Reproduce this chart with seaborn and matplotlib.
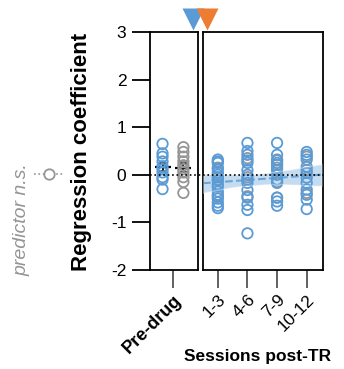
import numpy as np
import pandas as pd
import matplotlib
matplotlib.use("Agg")
import matplotlib.pyplot as plt
import seaborn as sns

sns.set_style("ticks")
plt.rcParams["font.family"] = ["Liberation Sans", "DejaVu Sans"]
plt.rcParams["text.color"] = "black"
plt.rcParams["axes.labelcolor"] = "black"
plt.rcParams["xtick.color"] = "black"
plt.rcParams["ytick.color"] = "black"

# ---------------- data ----------------
pre_label = "Pre-drug"
sessions = ["1-3", "4-6", "7-9", "10-12"]
groups = ["sig", "ns"]

pre_sig = [0.65, 0.45, 0.38, 0.28, 0.18, 0.12, 0.05, -0.05, -0.10, -0.30]
pre_ns = [0.58, 0.48, 0.38, 0.28, 0.20, 0.12, 0.05, -0.05, -0.15, -0.38]

post_sig_13 = [0.32, 0.28, 0.25, 0.12, 0.05, 0.0, -0.05, -0.12, -0.20, -0.25,
               -0.35, -0.42, -0.50, -0.58, -0.65, -0.70]
post_sig_46 = [0.67, 0.50, 0.42, 0.30, 0.25, 0.10, 0.0, -0.10, -0.17, -0.32,
               -0.48, -0.63, -0.74, -1.23]
post_sig_79 = [0.67, 0.42, 0.32, 0.25, 0.21, 0.10, 0.0, -0.10, -0.17, -0.48,
               -0.56, -0.65]
post_sig_1012 = [0.48, 0.42, 0.32, 0.17, 0.04, -0.06, -0.17, -0.31, -0.42,
                 -0.52, -0.72]

post_ns_13 = [0.15, -0.10, -0.45]
post_ns_46 = [0.35, -0.05, -0.45]
post_ns_79 = [0.30, 0.15, -0.15, -0.48]
post_ns_1012 = [0.38, 0.10, -0.38]

yticks = [-2, -1, 0, 1, 2, 3]

BLUE = "#5b9bd5"
ORANGE = "#ed7d31"
GREY = "#959595"

# ---------------- tables ----------------
df_pre = pd.DataFrame({
    "session": [pre_label] * (len(pre_sig) + len(pre_ns)),
    "value": pre_sig + pre_ns,
    "group": ["sig"] * len(pre_sig) + ["ns"] * len(pre_ns),
})

post_sig = [post_sig_13, post_sig_46, post_sig_79, post_sig_1012]
post_ns = [post_ns_13, post_ns_46, post_ns_79, post_ns_1012]
rows = []
for s, vals in zip(sessions, post_sig):
    for v in vals:
        rows.append((s, v, "sig"))
df_post_sig = pd.DataFrame(rows, columns=["session", "value", "group"])
rows = []
for s, vals in zip(sessions, post_ns):
    for v in vals:
        rows.append((s, v, "ns"))
df_post_ns = pd.DataFrame(rows, columns=["session", "value", "group"])

# ---------------- figure ----------------
W, H = 344, 369
fig = plt.figure(figsize=(W / 100, H / 100), dpi=100)
axL = fig.add_axes([150 / W, 1 - 270 / H, 48 / W, 238 / H])
axR = fig.add_axes([203 / W, 1 - 270 / H, 120 / W, 238 / H])


def hollow(ax, start=0):
    for c in ax.collections[start:]:
        fc = c.get_facecolors()
        if len(fc):
            c.set_edgecolors(fc)
            c.set_facecolors("none")
            c.set_linewidths(1.3)


# left panel
sns.stripplot(data=df_pre, x="session", y="value", hue="group",
              hue_order=groups, palette={"sig": BLUE, "ns": GREY},
              dodge=True, jitter=False, size=7.5, ax=axL, legend=False)
hollow(axL)
sns.pointplot(data=df_pre, x="session", y="value", hue="group",
              hue_order=groups, palette={"sig": "black", "ns": "black"},
              dodge=0.4, errorbar="se", capsize=0.09, markers="_",
              markersize=11, markeredgewidth=1.6, linestyle="none",
              err_kws={"linewidth": 1.3}, ax=axL, legend=False)

# right panel
sns.stripplot(data=df_post_ns, x="session", y="value", order=sessions,
              color=GREY, jitter=False, size=7.5, ax=axR, legend=False)
sns.stripplot(data=df_post_sig, x="session", y="value", order=sessions,
              color=BLUE, jitter=False, size=7.5, ax=axR, legend=False)
hollow(axR)
n_before = len(axR.collections)
xpos = df_post_sig["session"].map({s: i for i, s in enumerate(sessions)})
sns.regplot(x=xpos, y=df_post_sig["value"], scatter=False, ax=axR,
            color=BLUE, ci=95, truncate=False,
            line_kws={"linewidth": 1.5, "linestyle": "--", "alpha": 0.85})
for c in axR.collections[n_before:]:
    c.set_alpha(0.35)
    c.set_zorder(3)

# zero lines
axL.axhline(0, xmin=0, xmax=1 + 5 / 48, color="black", ls=":", lw=1.2,
            clip_on=False, zorder=5)
axR.axhline(0, color="black", ls=":", lw=1.2, zorder=5)

# axes styling
for ax in (axL, axR):
    ax.set_ylim(-2, 3)
    ax.set_xlabel("")
    ax.set_ylabel("")
    for sp in ax.spines.values():
        sp.set_visible(True)
        sp.set_linewidth(1.3)
        sp.set_color("black")
    ax.tick_params(axis="x", length=13, width=1.3, color="#555555",
                   labelcolor="black", labelsize=12.5, pad=3)

axL.set_xlim(-0.44, 0.48)
axR.set_xlim(-0.5, 3.55)
axL.set_yticks(yticks)
axL.set_yticklabels([str(t) for t in yticks])
axL.tick_params(axis="y", length=13, width=1.3, color="black",
                labelcolor="black", labelsize=12.5, pad=4)
axR.set_yticks([])

for lab in axL.get_xticklabels():
    lab.set_rotation(45)
    lab.set_ha("right")
    lab.set_rotation_mode("anchor")
    lab.set_fontweight("bold")
    lab.set_fontsize(13)
for lab in axR.get_xticklabels():
    lab.set_rotation(45)
    lab.set_ha("right")
    lab.set_rotation_mode("anchor")

# drug-onset triangles
axR.plot([-0.085], [1.053], marker="v", ms=16, color=BLUE, mec="none",
         transform=axR.transAxes, clip_on=False)
axR.plot([0.03], [1.053], marker="v", ms=16, color=ORANGE, mec="none",
         transform=axR.transAxes, clip_on=False)

# labels
fig.text(82 / W, 1 - 152 / H, "Regression coefficient", rotation=90,
         ha="center", va="center", fontsize=16, fontweight="bold",
         color="black")
fig.text(258 / W, 1 - 356 / H, "Sessions post-TR", ha="center",
         va="center", fontsize=12.5, fontweight="bold", color="black")
fig.text(22 / W, 1 - 220 / H, "predictor n.s.", rotation=90, ha="center",
         va="center", fontsize=14, style="italic", color=GREY)

# small key for "predictor n.s."
axK = fig.add_axes([34 / W, 1 - 180 / H, 29 / W, 12 / H])
axK.set_axis_off()
axK.set_xlim(0, 1)
axK.set_ylim(0, 1)
axK.plot([0, 1], [0.5, 0.5], ls=":", color=GREY, lw=1.2)
axK.plot([0.5], [0.5], marker="o", ms=7.5, mfc="white", mec=GREY, mew=1.3)

fig.savefig("out.png", dpi=100)
